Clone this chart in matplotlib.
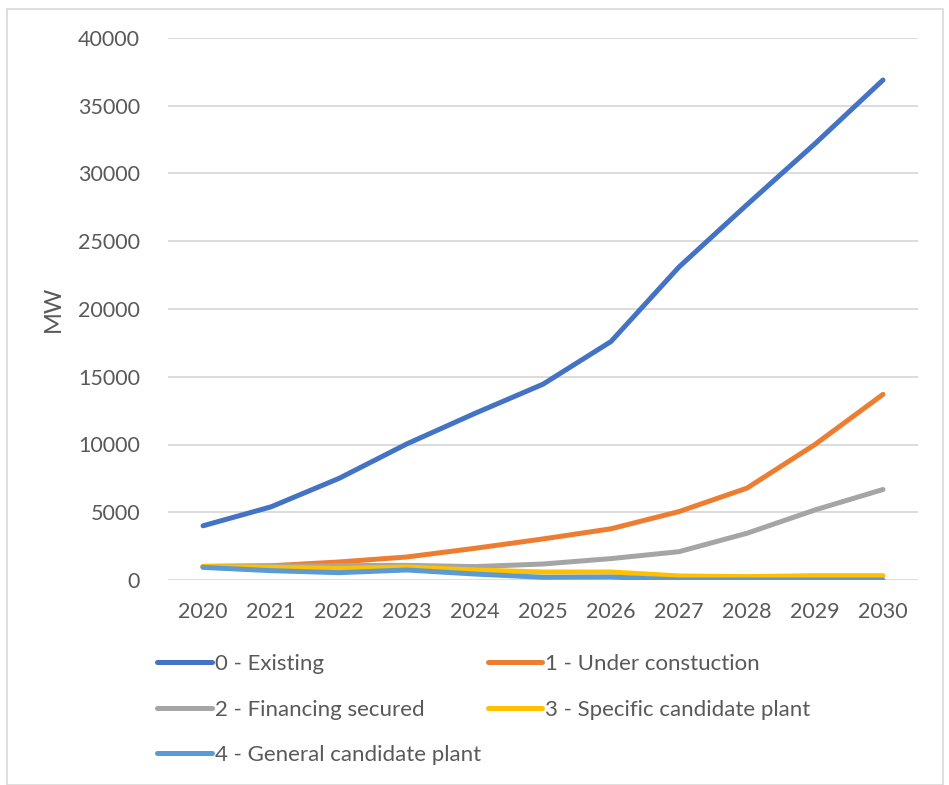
import matplotlib.pyplot as plt
from matplotlib.patches import Rectangle

years = [2020, 2021, 2022, 2023, 2024, 2025, 2026, 2027, 2028, 2029, 2030]

existing = [4000, 5400, 7500, 10050, 12300, 14450, 17600, 23100, 27700, 32200, 36900]
under_construction = [1000, 1050, 1330, 1700, 2340, 3030, 3780, 5050, 6780, 10000, 13700]
financing_secured = [1000, 1030, 1060, 1080, 990, 1180, 1580, 2090, 3450, 5170, 6680]
specific_candidate = [1000, 940, 860, 960, 740, 590, 590, 300, 250, 320, 320]
general_candidate = [930, 690, 540, 740, 440, 200, 220, 0, 0, 0, 0]

series = [
    ("0 - Existing", existing, "#4472C4"),
    ("1 - Under constuction", under_construction, "#ED7D31"),
    ("2 - Financing secured", financing_secured, "#A5A5A5"),
    ("3 - Specific candidate plant", specific_candidate, "#FFC000"),
    ("4 - General candidate plant", general_candidate, "#5B9BD5"),
]

text_color = "#595959"
plt.rcParams['font.family'] = ['Lato', 'DejaVu Sans']

fig = plt.figure(figsize=(9.49, 7.85), dpi=100)
ax = fig.add_axes([168 / 949, 1 - 580 / 785, 750 / 949, 542 / 785])

lines = []
for label, values, color in series:
    ln, = ax.plot(years, values, color=color, linewidth=3.6, solid_capstyle='round',
                  solid_joinstyle='round', label=label)
    lines.append(ln)

ax.set_xlim(2019.485, 2030.515)
ax.set_ylim(0, 40000)
ax.set_xticks(years)
ax.set_yticks(range(0, 40001, 5000))
ax.grid(axis='y', color='#D9D9D9', linewidth=1.3)
ax.set_axisbelow(True)
for s in ax.spines.values():
    s.set_visible(False)
ax.tick_params(length=0, labelsize=15.5, colors=text_color)
ax.tick_params(axis='y', pad=20)
ax.tick_params(axis='x', pad=16)
ax.set_ylabel("MW", fontsize=17, color=text_color, labelpad=10)

# legend is filled row by row, matplotlib fills columns, so reorder
order = [0, 2, 4, 1, 3]
leg = fig.legend([lines[i] for i in order], [series[i][0] for i in order],
                 loc='upper left', bbox_to_anchor=(146 / 949, 1 - 643 / 785), ncol=2,
                 frameon=False, fontsize=16, labelcolor=text_color, borderpad=0,
                 handlelength=2.45, handletextpad=0.15, columnspacing=0.3,
                 labelspacing=1.15)
for h in leg.legend_handles:
    h.set_linewidth(3.6)
    h.set_solid_capstyle('round')

fig.add_artist(Rectangle((7 / 949, 0), 936 / 949, 1 - 9 / 785, transform=fig.transFigure,
                         fill=False, edgecolor='#D9D9D9', linewidth=1.2))

fig.savefig("out.png", dpi=100)
